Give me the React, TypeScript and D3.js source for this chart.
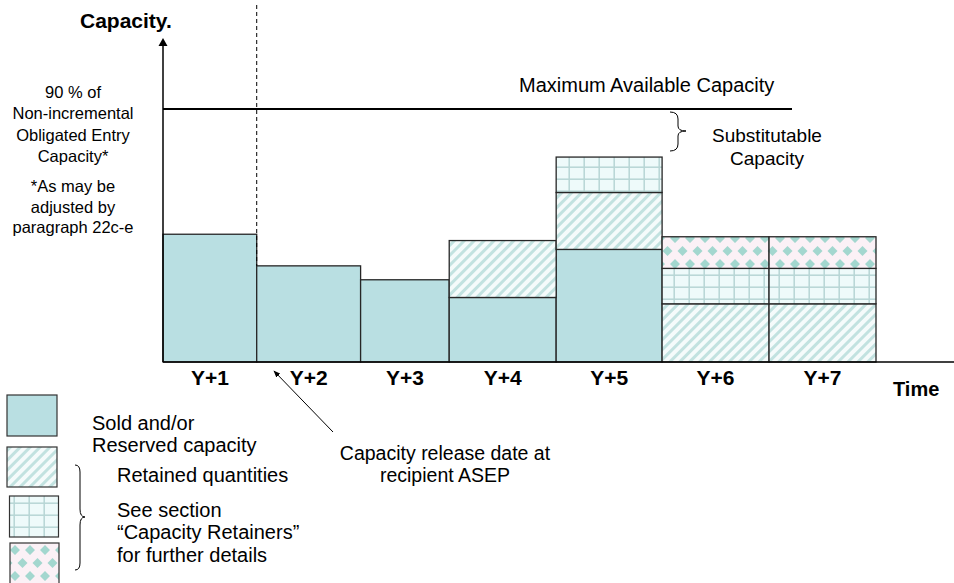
import * as d3 from "d3";

// capacity per period, in % of the maximum available capacity
const periods = ["Y+1", "Y+2", "Y+3", "Y+4", "Y+5", "Y+6", "Y+7"];
const periodEdges = [0, 0.92, 1.94, 2.81, 3.86, 4.9, 5.95, 7];
const soldReserved = [50.5, 38, 32.5, 25.5, 44.5, 0, 0];
const retainedQty = [0, 0, 0, 22.5, 22.5, 23, 23];
const gridRetainer = [0, 0, 0, 0, 14, 14, 14];
const diamondRetainer = [0, 0, 0, 0, 0, 12.5, 12.5];
const maxAvailable = 100;
const releaseEdge = 1; // index into periodEdges

const leftNote = ["90 % of", "Non-incremental", "Obligated Entry", "Capacity*"];
const leftFoot = ["*As may be", "adjusted by", "paragraph 22c-e"];

const W = 954;
const H = 583;
const FONT = "Arial, 'Liberation Sans', sans-serif";
const M = { left: 163, right: 876, base: 362 };

const keys = ["sold", "retained", "grid", "diamond"] as const;
const fills: Record<string, string> = {
  sold: "#b9dfe2",
  retained: "url(#hatch)",
  grid: "url(#grid)",
  diamond: "url(#diamond)",
};

export default function App() {
  const x = d3.scaleLinear().domain([0, 7]).range([M.left, M.right]);
  const y = d3.scaleLinear().domain([0, maxAvailable]).range([M.base, 109]);

  const rows = periods.map((p, i) => ({
    period: p,
    sold: soldReserved[i],
    retained: retainedQty[i],
    grid: gridRetainer[i],
    diamond: diamondRetainer[i],
  }));
  const stacked = d3.stack<(typeof rows)[0]>().keys(keys as unknown as string[])(rows);

  const dashX = x(periodEdges[releaseEdge]);
  const dashTop = y(soldReserved[releaseEdge]);

  return (
    <svg
      width={W}
      height={H}
      style={{ position: "absolute", left: 0, top: 0, background: "#fff" }}
      fontFamily={FONT}
    >
      <defs>
        <pattern id="hatch" patternUnits="userSpaceOnUse" width="7" height="7" patternTransform="rotate(45)">
          <rect width="7" height="7" fill="#f5fbfb" />
          <rect x="0" width="3" height="7" fill="#c2e2e0" />
        </pattern>
        <pattern id="grid" patternUnits="userSpaceOnUse" width="15" height="12">
          <rect width="15" height="12" fill="#eefafa" />
          <line x1="14.2" y1="0" x2="14.2" y2="12" stroke="#b7d6d5" strokeWidth="1.5" />
          <line x1="0" y1="11.2" x2="15" y2="11.2" stroke="#b7d6d5" strokeWidth="1.5" />
        </pattern>
        <pattern id="diamond" patternUnits="userSpaceOnUse" width="15" height="26" y="4">
          <rect width="15" height="26" fill="#fbf1f6" />
          <path d="M7.5,8 L12.5,13 L7.5,18 L2.5,13 Z" fill="#a3d7cf" />
          <path d="M0,-5 L5,0 L0,5 L-5,0 Z M15,-5 L20,0 L15,5 L10,0 Z M0,21 L5,26 L0,31 L-5,26 Z M15,21 L20,26 L15,31 L10,26 Z" fill="#a3d7cf" />
        </pattern>
        <marker id="arrowSmall" viewBox="0 0 10 10" refX="9" refY="5" markerWidth="7" markerHeight="7" orient="auto">
          <path d="M0,1 L10,5 L0,9 Z" fill="#000" />
        </marker>
      </defs>

      {/* bars */}
      {stacked.map((layer) => (
        <g key={layer.key}>
          {layer.map((d, i) =>
            d[1] - d[0] > 0 ? (
              <rect
                key={i}
                x={x(periodEdges[i])}
                y={y(d[1])}
                width={x(periodEdges[i + 1]) - x(periodEdges[i])}
                height={y(d[0]) - y(d[1])}
                fill={fills[layer.key]}
                stroke="#262626"
                strokeWidth={1.3}
              />
            ) : null
          )}
        </g>
      ))}

      {/* axes */}
      <line x1={M.left} x2={W} y1={M.base} y2={M.base} stroke="#000" strokeWidth={1.5} />
      <line x1={M.left} x2={M.left} y1={M.base} y2={46} stroke="#000" strokeWidth={1.5} />
      <path d={`M${M.left - 4.5},46 L${M.left},38 L${M.left + 4.5},46 Z`} fill="#000" />

      {/* maximum available capacity */}
      <line x1={M.left} x2={792} y1={y(maxAvailable)} y2={y(maxAvailable)} stroke="#000" strokeWidth={2} />
      <text x={519} y={92} fontSize={20}>Maximum Available Capacity</text>

      {/* substitutable brace */}
      <path
        d={`M670,${y(maxAvailable) + 3} Q678,${y(maxAvailable) + 3} 678,${y(maxAvailable) + 10} L678,${y(maxAvailable) + 17} Q678,${y(maxAvailable) + 22} 686,${y(maxAvailable) + 22} Q678,${y(maxAvailable) + 22} 678,${y(maxAvailable) + 27} L678,${y(maxAvailable) + 35} Q678,${y(maxAvailable) + 42} 670,${y(maxAvailable) + 42}`}
        fill="none"
        stroke="#000"
        strokeWidth={1}
      />
      <text x={767} y={142} fontSize={19} textAnchor="middle">Substitutable</text>
      <text x={767} y={165} fontSize={19} textAnchor="middle">Capacity</text>

      {/* release date dashed line */}
      <line x1={dashX} x2={dashX} y1={5} y2={dashTop} stroke="#000" strokeWidth={1} strokeDasharray="4,3" />

      {/* titles */}
      <text x={80} y={28} fontSize={21} fontWeight="bold">Capacity.</text>
      <text x={893} y={396} fontSize={20} fontWeight="bold">Time</text>

      {/* period labels */}
      {periods.map((p, i) => (
        <text
          key={p}
          x={(x(periodEdges[i]) + x(periodEdges[i + 1])) / 2}
          y={385}
          fontSize={21}
          fontWeight="bold"
          textAnchor="middle"
        >
          {p}
        </text>
      ))}

      {/* left annotation */}
      {leftNote.map((t, i) => (
        <text key={t} x={73} y={98 + i * 21.3} fontSize={16.5} textAnchor="middle">{t}</text>
      ))}
      {leftFoot.map((t, i) => (
        <text key={t} x={73} y={192 + i * 20.7} fontSize={16.5} textAnchor="middle">{t}</text>
      ))}

      {/* release date annotation */}
      <line x1={333} y1={432} x2={274} y2={371} stroke="#000" strokeWidth={1} markerEnd="url(#arrowSmall)" />
      <text x={445} y={460} fontSize={19.5} textAnchor="middle">Capacity release date at</text>
      <text x={445} y={482} fontSize={19.5} textAnchor="middle">recipient ASEP</text>

      {/* legend */}
      <rect x={7} y={395} width={50} height={41} fill={fills.sold} stroke="#333" strokeWidth={1.2} />
      <rect x={7} y={447} width={50} height={40} fill={fills.retained} stroke="#333" strokeWidth={1.2} />
      <rect x={9.5} y={496} width={49} height={41} fill={fills.grid} stroke="#333" strokeWidth={1.2} />
      <rect x={10} y={543} width={49} height={45} fill={fills.diamond} stroke="#333" strokeWidth={1.2} />
      <path
        d="M75,465 Q80,465 80,472 L80,509 Q80,517 85,517 Q80,517 80,525 L80,563 Q80,570 75,570"
        fill="none"
        stroke="#000"
        strokeWidth={1}
      />
      <text x={92} y={430} fontSize={20}>Sold and/or</text>
      <text x={92} y={452} fontSize={20}>Reserved capacity</text>
      <text x={117} y={482} fontSize={20}>Retained quantities</text>
      <text x={117} y={517} fontSize={20}>See section</text>
      <text x={117} y={539} fontSize={20}>“Capacity Retainers”</text>
      <text x={117} y={562} fontSize={20}>for further details</text>
    </svg>
  );
}
